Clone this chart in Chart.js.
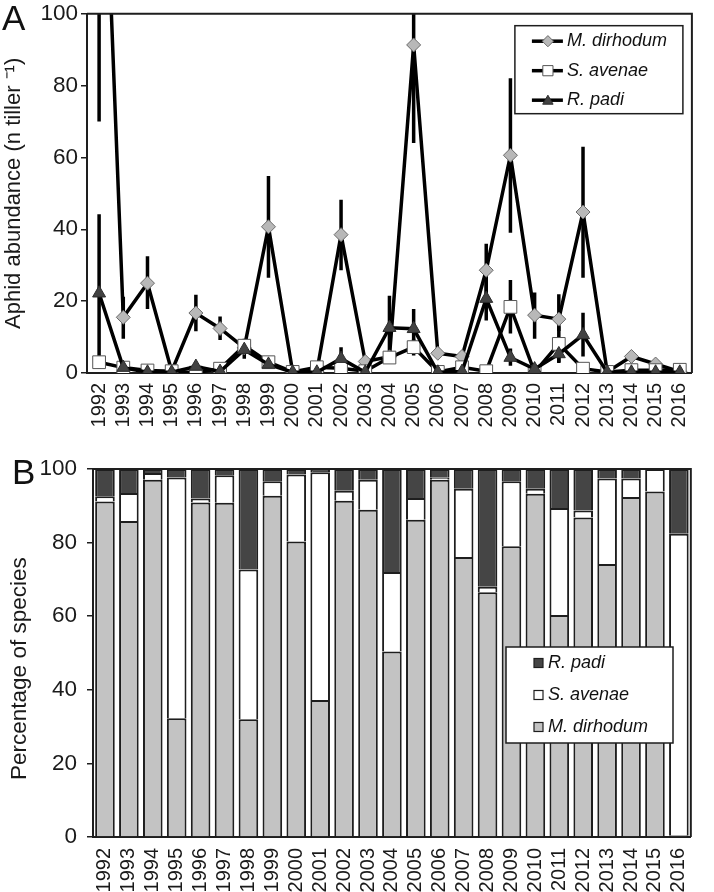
<!DOCTYPE html>
<html>
<head>
<meta charset="utf-8">
<script src="https://cdn.jsdelivr.net/npm/chart.js@4.4.1/dist/chart.umd.min.js"></script>
<style>
body { margin: 0; background: #fff; width: 714px; height: 892px; position: relative; overflow: hidden; font-family: "Liberation Sans", Arial, sans-serif; }
.wrap { position: absolute; left: 0; width: 714px; }
#wrapA { top: 0; height: 440px; }
#wrapB { top: 440px; height: 452px; }
.panel { position: absolute; font-size: 35px; line-height: 1; color: #111; }
</style>
</head>
<body>
<div class="wrap" id="wrapA"><canvas id="chartA"></canvas></div>
<div class="wrap" id="wrapB"><canvas id="chartB"></canvas></div>
<div class="panel" style="left:2px;top:0px">A</div>
<div class="panel" style="left:12px;top:454px">B</div>
<script>
// --- DONNEES ---
const years = ['1992','1993','1994','1995','1996','1997','1998','1999','2000','2001','2002','2003','2004',
               '2005','2006','2007','2008','2009','2010','2011','2012','2013','2014','2015','2016'];

// abondance moyenne (n tiller-1) + barres d'erreur
const mdMean = [187, 15.5, 25, 0.5, 16.7, 12.4, 7, 40.7, 0.3, 0.5, 38.5, 3.2, 4.5, 91.3, 5.5, 4.6, 28.6, 60.6, 16.1, 15, 44.8, 0.3, 4.6, 2.5, 0.4];
const mdLow  = [70, 9.5, 17.8, null, 11.6, 9.2, null, 26.5, null, null, 28.6, null, null, 64, null, null, 21, 39, 9.5, 11.7, 26.5, null, null, null, null];
const mdHigh = [300, 21.2, 32.5, null, 21.8, 15.7, null, 54.8, null, null, 48.2, null, null, 118, null, null, 36, 82, 22.4, 21.9, 63, null, null, null, null];

const saMean = [3.0, 1.5, 0.7, 0.5, 0.1, 1.2, 7.6, 3.0, 0.3, 1.6, 1.3, 0.5, 4.3, 7.2, 0.3, 1.6, 0.5, 18.4, 0.2, 8.1, 1.2, 0.3, 0.8, 0.8, 0.9];
const saLow  = [1.3, null, null, null, null, null, 5.5, null, null, null, null, null, 3, 4.9, null, null, null, 11, null, 2.8, null, null, null, null, null];
const saHigh = [4.7, null, null, null, null, null, 9.5, null, null, null, null, null, 5.7, 9.5, null, null, null, 25.9, null, 13, null, null, null, null, null];

const rpMean = [22.2, 1.5, 0.2, 0.2, 1.8, 0.4, 6.5, 2.4, 0.2, 0.2, 4.0, 0.2, 12.6, 12.3, 0.2, 0.4, 20.7, 4.3, 1.1, 5.3, 10.6, 0.2, 0.2, 0.2, 0.2];
const rpLow  = [1.3, null, null, null, null, null, 4, null, null, null, 1, null, 4, 7, null, null, 14.6, 2, null, 3, 4.6, null, null, null, null];
const rpHigh = [44.2, null, null, null, null, null, 9, null, null, null, 7.2, null, 21.5, 17.8, null, null, 27.5, 6.8, null, 8, 16.8, null, null, null, null];

// pourcentage de chaque espece
const mdPct = [91.2, 85.9, 97.1, 32.3, 90.9, 90.8, 32.0, 92.7, 80.3, 37.2, 91.4, 88.9, 50.4, 86.2, 97.1, 76.1, 66.5, 79.0, 93.3, 60.3, 86.8, 74.2, 92.4, 93.9, 0.5];
const saPct = [1.4, 7.6, 1.8, 65.4, 1.1, 7.5, 40.7, 4.0, 18.2, 61.9, 2.7, 8.2, 21.6, 5.9, 0.5, 18.5, 1.5, 17.7, 1.3, 29.1, 1.9, 23.2, 5.0, 6.1, 81.9];
const rpPct = [7.4, 6.5, 1.1, 2.3, 8.0, 1.7, 27.3, 3.3, 1.5, 0.9, 5.9, 2.9, 28.0, 7.9, 2.4, 5.4, 32.0, 3.3, 5.4, 10.6, 11.3, 2.6, 2.6, 0.0, 17.6];

const yTicks = [0, 20, 40, 60, 80, 100];

Chart.defaults.font.family = '"Liberation Sans", Arial, sans-serif';
Chart.defaults.color = '#1a1a1a';
const INK = '#1e1e1e';

// --- PLUGINS ---
const errorBars = {
    id: 'errorBars',
    beforeDatasetsDraw(chart) {
        const { ctx, chartArea: a, scales: { x, y } } = chart;
        ctx.save();
        ctx.beginPath(); ctx.rect(a.left, a.top, a.right - a.left, a.bottom - a.top); ctx.clip();
        ctx.strokeStyle = '#000'; ctx.lineWidth = 3.5;
        [[mdLow, mdHigh], [saLow, saHigh], [rpLow, rpHigh]].forEach(([lo, hi]) => {
            lo.forEach((v, i) => {
                if (v === null) return;
                const px = x.getPixelForValue(i);
                ctx.beginPath(); ctx.moveTo(px, y.getPixelForValue(v)); ctx.lineTo(px, y.getPixelForValue(hi[i])); ctx.stroke();
            });
        });
        ctx.restore();
    }
};

const frame = {
    id: 'frame',
    afterDatasetsDraw(chart) {
        const { ctx, chartArea: a } = chart;
        ctx.save();
        ctx.strokeStyle = INK; ctx.lineWidth = 2;
        ctx.beginPath(); ctx.moveTo(a.left, a.top); ctx.lineTo(a.right, a.top); ctx.lineTo(a.right, a.bottom); ctx.stroke();
        ctx.restore();
    }
};

const legendA = {
    id: 'legendA',
    afterDraw(chart) {
        const { ctx, chartArea: a } = chart;
        const bx = a.right - 177, by = a.top + 12, bw = 168, bh = 88;
        ctx.save();
        ctx.fillStyle = '#fff'; ctx.fillRect(bx, by, bw, bh);
        ctx.strokeStyle = INK; ctx.lineWidth = 1.5; ctx.strokeRect(bx, by, bw, bh);
        ctx.font = 'italic 18px "Liberation Sans", Arial, sans-serif';
        ctx.textBaseline = 'middle'; ctx.textAlign = 'left';
        [0, 1, 2].forEach(k => {
            const ds = chart.data.datasets[k];
            const yy = by + 15.5 + k * 29.5;
            ctx.strokeStyle = ds.borderColor; ctx.lineWidth = ds.borderWidth;
            ctx.beginPath(); ctx.moveTo(bx + 17, yy); ctx.lineTo(bx + 48, yy); ctx.stroke();
            ctx.fillStyle = ds.pointBackgroundColor; ctx.strokeStyle = ds.pointBorderColor; ctx.lineWidth = 1;
            Chart.helpers.drawPoint(ctx, { pointStyle: ds.pointStyle, radius: ds.pointRadius * 0.8, borderWidth: 1, rotation: 0 }, bx + 33, yy + (ds.pointStyle === 'triangle' ? 1 : 0));
            ctx.fillStyle = '#111';
            ctx.fillText(ds.label, bx + 52, yy);
        });
        ctx.restore();
    }
};

const legendB = {
    id: 'legendB',
    afterDraw(chart) {
        const { ctx, chartArea: a } = chart;
        const bx = a.left + 413, by = a.top + 178, bw = 167, bh = 96;
        ctx.save();
        ctx.fillStyle = '#fff'; ctx.fillRect(bx, by, bw, bh);
        ctx.strokeStyle = INK; ctx.lineWidth = 1.5; ctx.strokeRect(bx, by, bw, bh);
        ctx.font = 'italic 18px "Liberation Sans", Arial, sans-serif';
        ctx.textBaseline = 'middle'; ctx.textAlign = 'left';
        [2, 1, 0].forEach((k, j) => {
            const ds = chart.data.datasets[k];
            const yy = by + 16 + j * 32;
            ctx.fillStyle = ds.backgroundColor; ctx.fillRect(bx + 28, yy - 4.5, 9, 9);
            ctx.strokeStyle = INK; ctx.lineWidth = 1.2; ctx.strokeRect(bx + 28, yy - 4.5, 9, 9);
            ctx.fillStyle = '#111';
            ctx.fillText(ds.label, bx + 42, yy);
        });
        ctx.restore();
    }
};

// --- GRAPHIQUE A : abondance ---
new Chart(document.getElementById('chartA'), {
    type: 'line',
    data: {
        labels: years,
        datasets: [
            { label: 'M. dirhodum', data: mdMean, borderColor: '#000', borderWidth: 3.5, pointStyle: 'rectRot', pointRadius: 7,
              pointBackgroundColor: '#b8b8b8', pointBorderColor: '#6a6a6a', pointBorderWidth: 1, order: 2 },
            { label: 'S. avenae', data: saMean, borderColor: '#000', borderWidth: 3.5, pointStyle: 'rect', pointRadius: 9,
              pointBackgroundColor: '#ffffff', pointBorderColor: '#555555', pointBorderWidth: 1, order: 1 },
            { label: 'R. padi', data: rpMean, borderColor: '#000', borderWidth: 3.5, pointStyle: 'triangle', pointRadius: 7.5,
              pointBackgroundColor: '#424242', pointBorderColor: '#2c2c2c', pointBorderWidth: 1, order: 0 }
        ]
    },
    options: {
        responsive: true, maintainAspectRatio: false, animation: false,
        layout: { padding: { top: 11, right: 2, left: 0, bottom: 0 } },
        plugins: { legend: { display: false }, tooltip: { enabled: false } },
        scales: {
            x: {
                offset: true,
                grid: { display: false, drawTicks: false },
                border: { display: true, color: INK, width: 2 },
                ticks: { autoSkip: false, minRotation: 90, maxRotation: 90, padding: 10, font: { size: 20 } },
                afterFit: s => { s.height = 67; }
            },
            y: {
                min: 0, max: 100,
                afterBuildTicks: s => { s.ticks = yTicks.map(v => ({ value: v })); },
                ticks: { padding: 3, font: { size: 22.5, lineHeight: 0.95 } },
                grid: { drawOnChartArea: false, tickLength: 6, color: INK, lineWidth: 1.5 },
                border: { color: INK, width: 2 },
                title: { display: true, text: 'Aphid abundance (n tiller \u207B\u00B9)', font: { size: 22 }, padding: { top: 1, bottom: 0 } },
                afterFit: s => { s.width = 87; }
            }
        }
    },
    plugins: [errorBars, frame, legendA]
});

// --- GRAPHIQUE B : pourcentage ---
const barStyle = { borderColor: INK, borderWidth: 2, categoryPercentage: 1, barPercentage: 0.82 };
new Chart(document.getElementById('chartB'), {
    type: 'bar',
    data: {
        labels: years,
        datasets: [
            Object.assign({ label: 'M. dirhodum', data: mdPct, backgroundColor: '#c3c3c3' }, barStyle),
            Object.assign({ label: 'S. avenae', data: saPct, backgroundColor: '#ffffff' }, barStyle),
            Object.assign({ label: 'R. padi', data: rpPct, backgroundColor: '#454545' }, barStyle)
        ]
    },
    options: {
        responsive: true, maintainAspectRatio: false, animation: false,
        layout: { padding: { top: 29, right: 7, left: 0, bottom: 0 } },
        plugins: { legend: { display: false }, tooltip: { enabled: false } },
        scales: {
            x: {
                stacked: true,
                grid: { display: false, drawTicks: false },
                border: { display: true, color: INK, width: 2 },
                ticks: { autoSkip: false, minRotation: 90, maxRotation: 90, padding: 11, font: { size: 20 } },
                afterFit: s => { s.height = 55; }
            },
            y: {
                stacked: true, min: 0, max: 100,
                afterBuildTicks: s => { s.ticks = yTicks.map(v => ({ value: v })); },
                ticks: { padding: 10, font: { size: 22.5, lineHeight: 0.95 } },
                grid: { drawOnChartArea: false, tickLength: 6, color: INK, lineWidth: 1.5 },
                border: { color: INK, width: 2 },
                title: { display: true, text: 'Percentage of species     ', font: { size: 22.5 }, padding: { top: 6, bottom: 0 } },
                afterFit: s => { s.width = 93; }
            }
        }
    },
    plugins: [frame, legendB]
});
</script>
</body>
</html>
